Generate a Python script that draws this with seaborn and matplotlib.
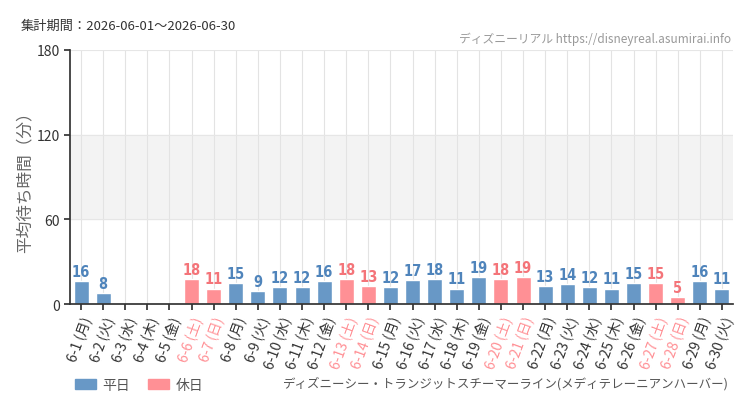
import matplotlib
matplotlib.use("Agg")
import matplotlib.pyplot as plt
import seaborn as sns
import pandas as pd
import numpy as np
from matplotlib.patches import Patch

days = [f"6-{d}" for d in range(1, 31)]
weekdays = ["月","火","水","木","金","土","日"] * 5
weekdays = weekdays[:30]
values = [16, 8, np.nan, np.nan, np.nan, 18, 11, 15, 9, 12, 12, 16, 18, 13, 12,
          17, 18, 11, 19, 18, 19, 13, 14, 12, 11, 15, 15, 5, 16, 11]
daytype = ["平日" if w not in ("土", "日") else "休日" for w in weekdays]
tick_labels = [f"{d} ({w})" for d, w in zip(days, weekdays)]

blue = "#6898c6"
pink = "#ff9095"
blue_txt = "#4f84bb"
pink_txt = "#f47479"

sns.set_theme(style="white")
plt.rcParams['font.family'] = ['Noto Sans CJK JP', 'DejaVu Sans']

df = pd.DataFrame({"day": tick_labels, "value": values, "type": daytype})

fig = plt.figure(figsize=(7.5, 4.1), dpi=100)
fig.patch.set_facecolor("white")
ax = fig.add_axes([0.0933, 0.256, 0.884, 0.62])

ax.axhspan(60, 120, color="#f3f3f3", zorder=0)
for i in range(30):
    ax.axvline(i, color="#e3e3e3", lw=0.8, zorder=0.5)
for yv in (60, 120, 180):
    ax.axhline(yv, color="#e6e6e6", lw=0.8, zorder=0.5)

sns.barplot(data=df, x="day", y="value", hue="type", order=tick_labels,
            hue_order=["平日", "休日"], palette={"平日": blue, "休日": pink},
            dodge=False, width=0.68, saturation=1, ax=ax, legend=False, zorder=2)

for i, (v, t) in enumerate(zip(values, daytype)):
    if not np.isnan(v):
        ax.text(i, v + 1.5, f"{int(v)}", ha="center", va="bottom",
                fontsize=10.5, color=blue_txt if t == "平日" else pink_txt,
                family=['DejaVu Sans'], fontstretch="condensed", fontweight="semibold")

ax.set_ylim(0, 180)
ax.set_xlim(-0.5, 29.5)
ax.set_yticks([0, 60, 120, 180])
ax.set_yticklabels(["0", "60", "120", "180"], fontsize=10, color="#333333")
ax.set_xticks(range(30))
ax.set_xticklabels(tick_labels, rotation=70, ha="right", rotation_mode="anchor", fontsize=10)
for lbl, t in zip(ax.get_xticklabels(), daytype):
    lbl.set_color("#333333" if t == "平日" else pink)
ax.tick_params(axis="both", length=4, color="#333333", direction="out", bottom=True, left=True)
ax.set_xlabel("")
ax.set_ylabel("平均待ち時間（分）", fontsize=12, color="#666666", labelpad=2)
for s in ("top", "right"):
    ax.spines[s].set_visible(False)
ax.spines["left"].set_color("#333333")
ax.spines["bottom"].set_color("#333333")

fig.text(0.027, 0.935, "集計期間：2026-06-01〜2026-06-30", fontsize=9.5, color="#333333", va="center")
fig.text(0.975, 0.905, "ディズニーリアル https://disneyreal.asumirai.info", fontsize=8.5,
         color="#999999", ha="right", va="center")
fig.text(0.972, 0.065, "ディズニーシー・トランジットスチーマーライン(メディテレーニアンハーバー)",
         fontsize=9, color="#555555", ha="right", va="center")

handles = [Patch(color=blue, label="平日"), Patch(color=pink, label="休日")]
fig.legend(handles=handles, loc="center left", bbox_to_anchor=(0.083, 0.058), ncol=2,
           frameon=False, fontsize=10, handlelength=1.5, handleheight=0.75, columnspacing=1.3,
           handletextpad=0.5, labelcolor="#555555")

fig.savefig("out.png", dpi=100)
